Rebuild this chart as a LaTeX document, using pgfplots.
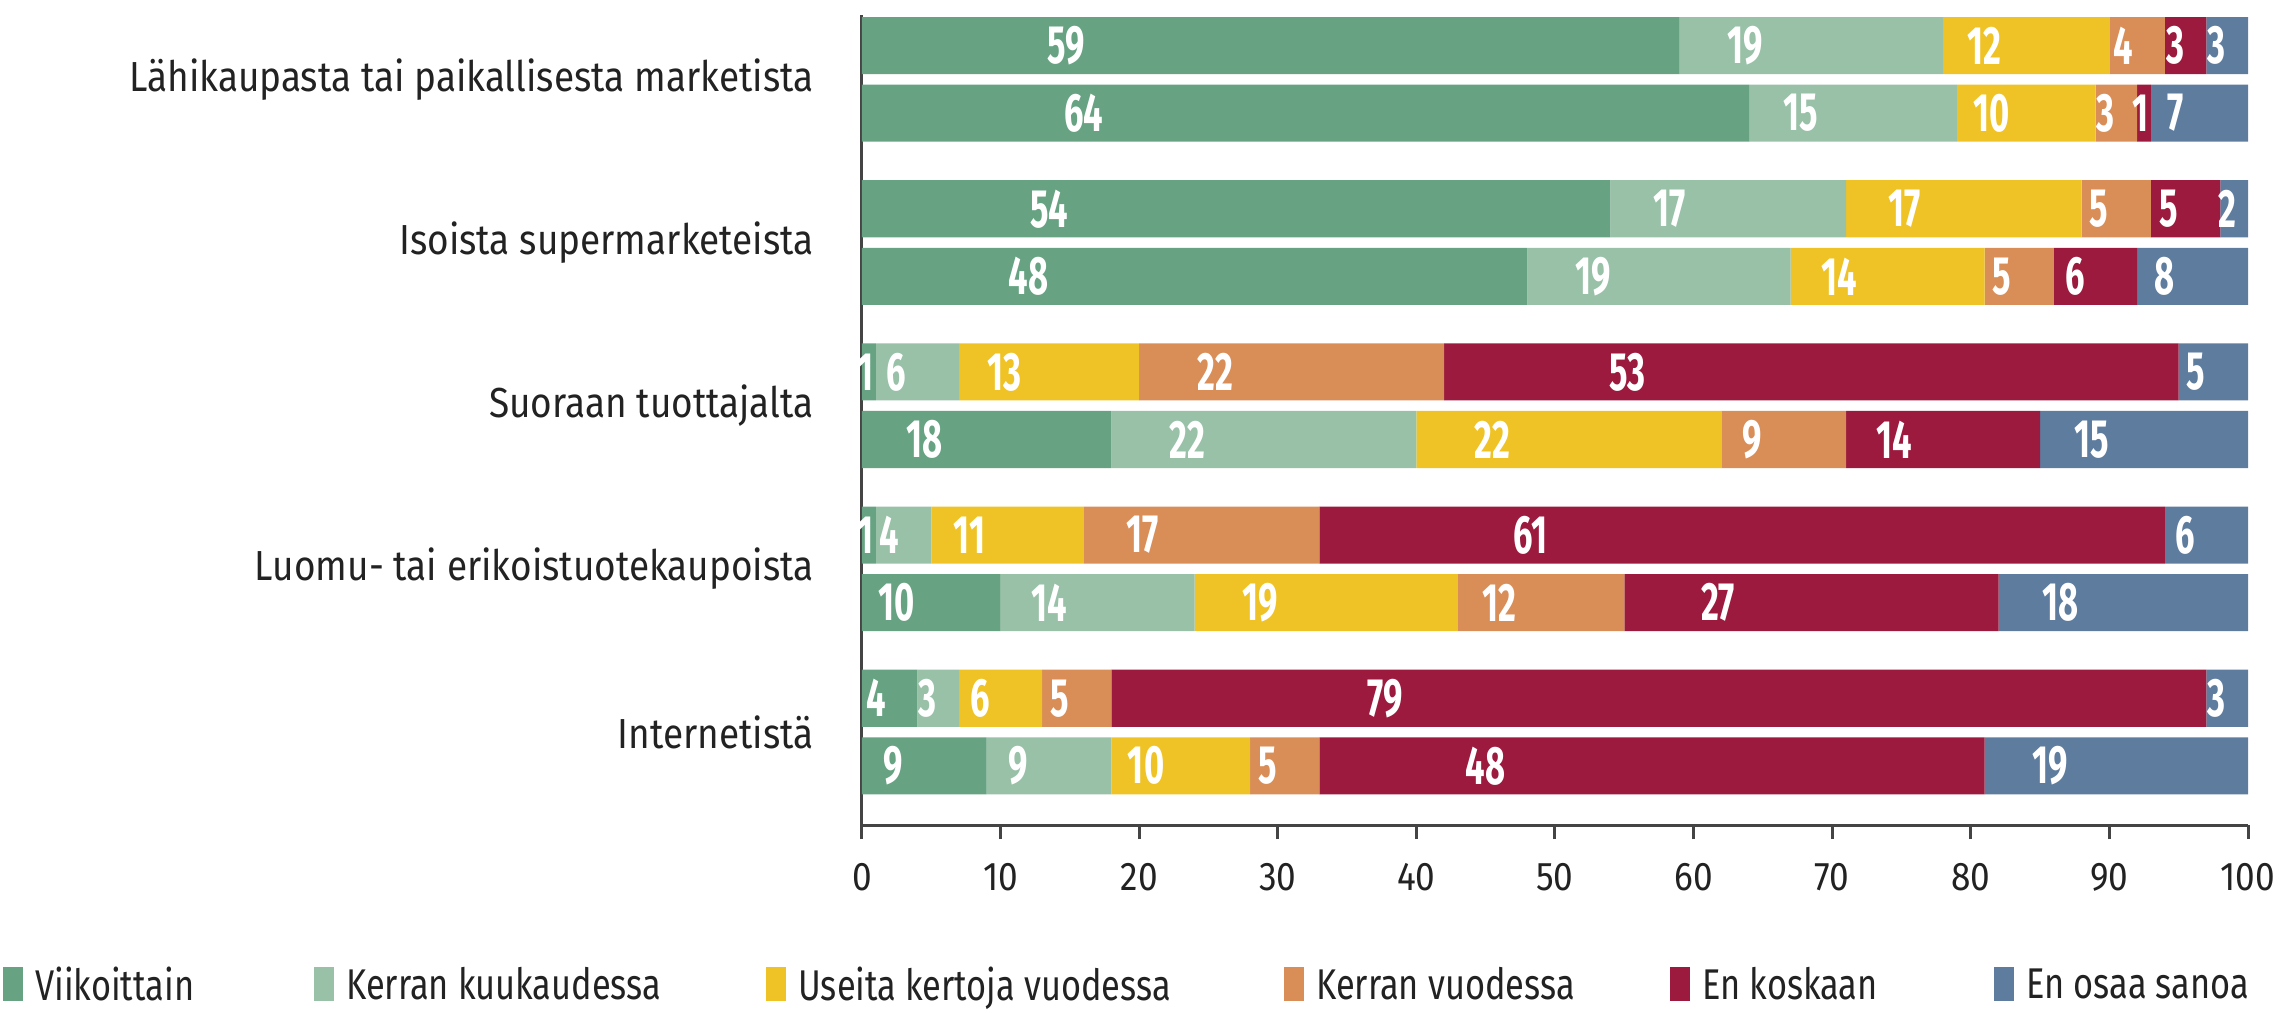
\documentclass[border=0pt]{standalone}
\usepackage{fontspec}
\setmainfont[FakeStretch=0.88]{Fira Sans}
\newfontfamily\valfont[FakeStretch=0.64]{Fira Sans}
\newfontfamily\legfont[FakeStretch=0.8]{Fira Sans}
\usepackage{pgfplots}
\pgfplotsset{compat=1.18}
\definecolor{cA}{HTML}{67A382}
\definecolor{cB}{HTML}{98C1A8}
\definecolor{cC}{HTML}{EFC325}
\definecolor{cD}{HTML}{D98D57}
\definecolor{cE}{HTML}{9B1A3E}
\definecolor{cF}{HTML}{5E7C9E}
\definecolor{txt}{HTML}{222222}
\definecolor{axl}{HTML}{444444}
\begin{document}
\begin{tikzpicture}
\begin{axis}[
  at={(0,0)}, anchor=south west,
  scale only axis, width=693bp, height=405.3bp,
  xbar stacked, bar width=0.35,
  xmin=0, xmax=100, ymin=-4.571, ymax=0.397,
  axis x line*=bottom, axis y line*=left,
  axis line style={-, axl, line width=1.5bp},
  xtick={0,10,...,100},
  tick align=outside,
  major tick length=7bp,
  x tick style={axl, line width=1.5bp},
  xticklabel style={font=\fontsize{20bp}{24bp}\selectfont, text=txt, inner sep=0pt, anchor=north, yshift=-12bp},
  /pgf/number format/assume math mode=true,
  ytick={-4,-3,-2,-1,0},
  yticklabels={Internetistä, Luomu- tai erikoistuotekaupoista, Suoraan tuottajalta, Isoista supermarketeista, Lähikaupasta tai paikallisesta marketista},
  y tick style={draw=none},
  yticklabel style={font=\fontsize{21bp}{25bp}\selectfont, text=txt, inner sep=0pt, anchor=east, xshift=-17bp},
  point meta=explicit symbolic,
  nodes near coords={\pgfplotspointmeta},
  every node near coord/.append style={font=\valfont\bfseries\fontsize{27bp}{30bp}\selectfont, text=white, anchor=center, inner sep=0pt, xshift={-0.25*\pgfplotspointmeta*6.93bp}},
  legend columns=6,
  legend cell align=left,
  legend image code/.code={\fill[#1] (0bp,-8bp) rectangle (10bp,9bp);},
  legend style={draw=none, fill=none, at={(0,0)}, anchor=west, xshift=-429.5bp, yshift=-80bp, inner sep=0pt, column sep=0pt, nodes={inner sep=0pt, anchor=west}, font=\legfont\fontsize{21.5bp}{25bp}\selectfont, text=txt},
]
\addplot[fill=cA, draw=none] coordinates {(59,0.207)[59] (64,-0.207)[64] (54,-0.793)[54] (48,-1.207)[48] (1,-1.793)[1] (18,-2.207)[18] (1,-2.793)[1] (10,-3.207)[10] (4,-3.793)[4] (9,-4.207)[9]};
\addlegendentry{\makebox[145.5bp][l]{\hspace{6bp}Viikoittain}}
\addplot[fill=cB, draw=none] coordinates {(19,0.207)[19] (15,-0.207)[15] (17,-0.793)[17] (19,-1.207)[19] (6,-1.793)[6] (22,-2.207)[22] (4,-2.793)[4] (14,-3.207)[14] (3,-3.793)[3] (9,-4.207)[9]};
\addlegendentry{\makebox[216bp][l]{\hspace{6bp}Kerran kuukaudessa}}
\addplot[fill=cC, draw=none] coordinates {(12,0.207)[12] (10,-0.207)[10] (17,-0.793)[17] (14,-1.207)[14] (13,-1.793)[13] (22,-2.207)[22] (11,-2.793)[11] (19,-3.207)[19] (6,-3.793)[6] (10,-4.207)[10]};
\addlegendentry{\makebox[249bp][l]{\hspace{6bp}Useita kertoja vuodessa}}
\addplot[fill=cD, draw=none] coordinates {(4,0.207)[4] (3,-0.207)[3] (5,-0.793)[5] (5,-1.207)[5] (22,-1.793)[22] (9,-2.207)[9] (17,-2.793)[17] (12,-3.207)[12] (5,-3.793)[5] (5,-4.207)[5]};
\addlegendentry{\makebox[183bp][l]{\hspace{6bp}Kerran vuodessa}}
\addplot[fill=cE, draw=none] coordinates {(3,0.207)[3] (1,-0.207)[1] (5,-0.793)[5] (6,-1.207)[6] (53,-1.793)[53] (14,-2.207)[14] (61,-2.793)[61] (27,-3.207)[27] (79,-3.793)[79] (48,-4.207)[48]};
\addlegendentry{\makebox[152bp][l]{\hspace{6bp}En koskaan}}
\addplot[fill=cF, draw=none] coordinates {(3,0.207)[3] (7,-0.207)[7] (2,-0.793)[2] (8,-1.207)[8] (5,-1.793)[5] (15,-2.207)[15] (6,-2.793)[6] (18,-3.207)[18] (3,-3.793)[3] (19,-4.207)[19]};
\addlegendentry{\makebox[134bp][l]{\hspace{6bp}En osaa sanoa}}
\end{axis}
\pgfresetboundingbox
\path[use as bounding box] (-431bp,-93.9bp) rectangle (710bp,412.6bp);
\end{tikzpicture}
\end{document}
